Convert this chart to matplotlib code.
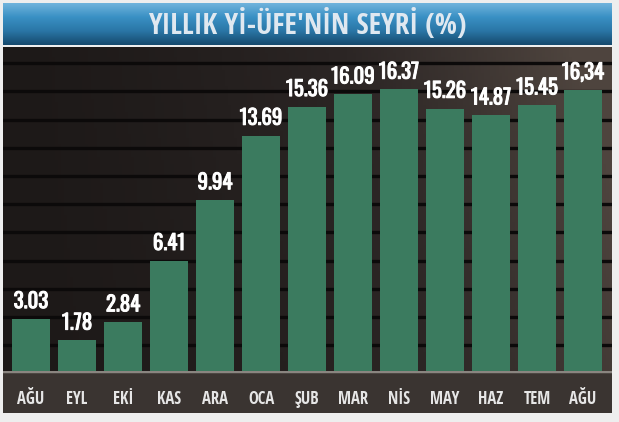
import numpy as np
import matplotlib
matplotlib.use('Agg')
from matplotlib import pyplot as plt
from matplotlib import patheffects as pe
from matplotlib.colors import LinearSegmentedColormap

# -- data --
months = ['AĞU', 'EYL', 'EKİ', 'KAS', 'ARA', 'OCA', 'ŞUB', 'MAR', 'NİS', 'MAY', 'HAZ', 'TEM', 'AĞU']
values = [3.03, 1.78, 2.84, 6.41, 9.94, 13.69, 15.36, 16.09, 16.37, 15.26, 14.87, 15.45, 16.34]
value_labels = ['3.03', '1.78', '2.84', '6.41', '9.94', '13.69', '15.36', '16.09', '16.37',
                '15.26', '14.87', '15.45', '16,34']
title = "YILLIK Yİ-ÜFE'NİN SEYRİ (%)"

TITLE_FONT = ['Open Sans Condensed', 'Roboto Condensed', 'DejaVu Sans']
NUM_FONT = ['Oswald', 'Roboto Condensed', 'DejaVu Sans']
TICK_FONT = ['Open Sans Condensed', 'Roboto Condensed', 'DejaVu Sans']
W, H = 619, 422

fig = plt.figure(figsize=(W / 100, H / 100), dpi=100)
fig.patch.set_facecolor('#eeeeee')


def fbox(x0, y0, x1, y1):
    # pixel box (top-left origin) -> figure fraction rect
    return [x0 / W, 1 - y1 / H, (x1 - x0) / W, (y1 - y0) / H]


# title banner
ax_t = fig.add_axes(fbox(3, 3, 612, 45))
grad_t = LinearSegmentedColormap.from_list('t', ['#164a6e', '#2a76a6', '#3990c4', '#6fb3dc'])
ax_t.imshow(np.linspace(0, 1, 50).reshape(-1, 1) * np.ones((1, 10)), cmap=grad_t,
            aspect='auto', extent=[0, 1, 0, 1], origin='lower')
ax_t.text(0.5, 0.46, title, ha='center', va='center', color='#dfe8f0',
          fontsize=21, fontweight='bold', family=TITLE_FONT, transform=ax_t.transAxes)
ax_t.set_xlim(0, 1)
ax_t.set_ylim(0, 1)
ax_t.axis('off')

# axis band under the bars
ax_b = fig.add_axes(fbox(3, 371, 612, 413))
ax_b.set_facecolor('#3a3431')
ax_b.axhline(1, color='#8a8580', lw=2.5)
ax_b.set_xticks([])
ax_b.set_yticks([])
for s in ax_b.spines.values():
    s.set_visible(False)

# main chart panel
ax = fig.add_axes(fbox(3, 47, 612, 371))
ax.set_zorder(3)
ymax = (371 - 47) / 17.2
ax.set_xlim(-0.61, 12.63)
ax.set_ylim(0, ymax)

bg = LinearSegmentedColormap.from_list('bg', ['#1d1918', '#2c2625', '#4e443e'])
xx = np.linspace(0, 1, 200)
yy = np.linspace(0, 1, 100)
gx, gy = np.meshgrid(xx, yy)
ax.imshow(0.85 * gx ** 1.5 + 0.25 * gy * gx, cmap=bg, vmin=0, vmax=1, aspect='auto',
          extent=[-0.61, 12.63, 0, ymax], origin='lower', zorder=0)

for g in np.arange(1.5, ymax, 1.64):
    ax.axhline(g, color='#0c0a0a', lw=2.4, zorder=1)

x = np.arange(len(months))
ax.bar(x, values, width=0.83, color='#3b7b5f', zorder=2)
for i, v in enumerate(values):
    ax.text(x[i], v + 0.45, value_labels[i], ha='center', va='bottom', color='white',
            fontsize=15, fontweight='bold', family=NUM_FONT, zorder=4,
            path_effects=[pe.withStroke(linewidth=0.7, foreground='white')])

ax.set_xticks(x)
ax.set_xticklabels(months, color='#e6e6e6', fontsize=12, fontweight='bold', family=TICK_FONT)
ax.tick_params(axis='x', length=0, pad=14)
ax.set_yticks([])
for s in ax.spines.values():
    s.set_visible(False)

plt.savefig('out.png', dpi=100, facecolor=fig.get_facecolor())
